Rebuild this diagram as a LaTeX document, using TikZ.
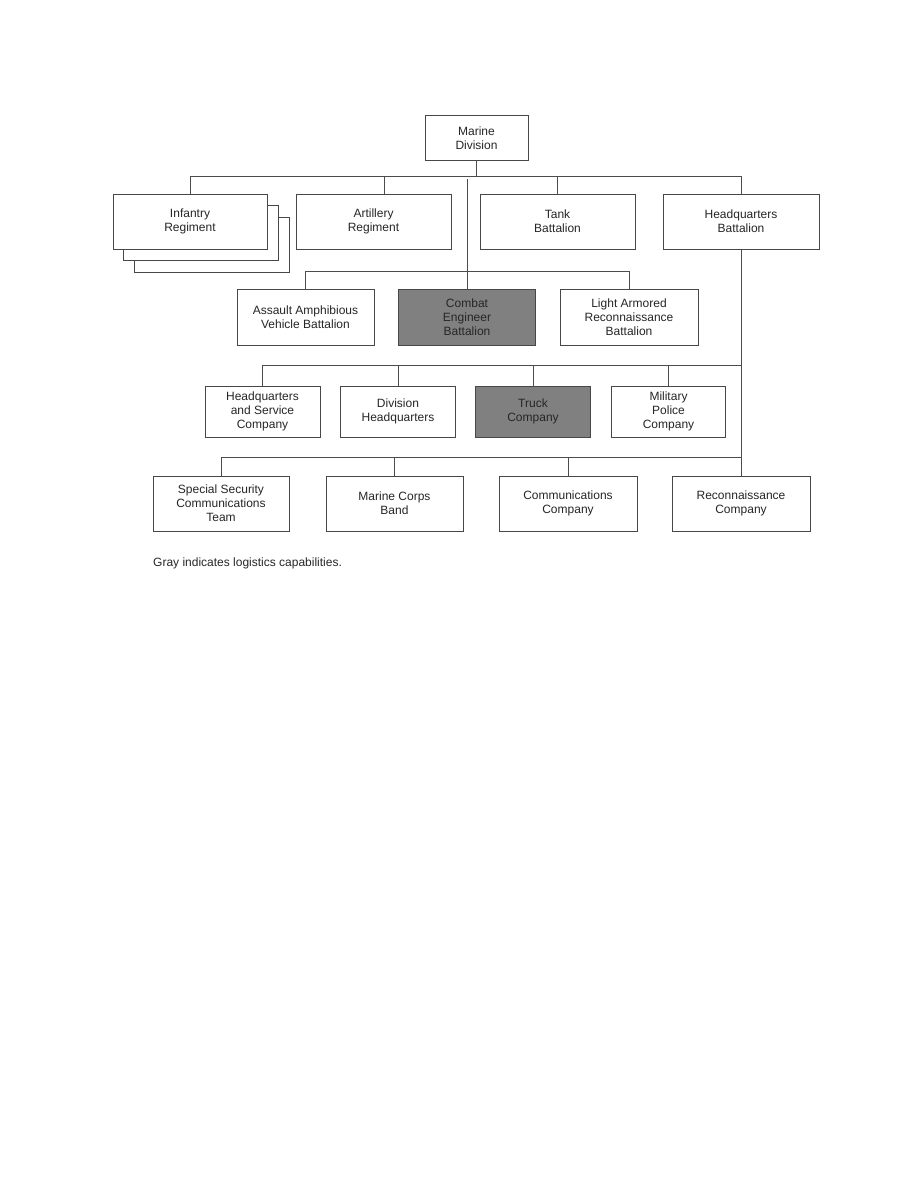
\documentclass[tikz,border=0pt]{standalone}
\usepackage{fontspec}
\setmainfont{Liberation Sans}
\begin{document}
\begin{tikzpicture}[x=1pt,y=-1pt,
  box/.style={draw=black!72, line width=1pt, fill=white, inner sep=0pt, align=center,
    font=\fontsize{12}{14}\selectfont, text=black!85},
  graybox/.style={box, fill=black!50},
  conn/.style={draw=black!70, line width=1pt}]
\useasboundingbox (0,0) rectangle (918,1188);
% top
\node[box, minimum width=103pt, minimum height=44pt] (md) at (476.5,138) {Marine\\Division};
% row 1
\node[box, minimum width=155pt, minimum height=55pt] (inf3) at (211.5,244.5) {};
\node[box, minimum width=155pt, minimum height=55pt] (inf2) at (200.5,233) {};
\node[box, minimum width=154pt, minimum height=55pt] (inf) at (190,221.5) {Infantry\\Regiment};
\node[box, minimum width=155pt, minimum height=55pt] (art) at (373.5,221.5) {Artillery\\Regiment};
\node[box, minimum width=155pt, minimum height=55pt] (tank) at (557.5,221.5) {Tank\\Battalion};
\node[box, minimum width=156pt, minimum height=55pt] (hqb) at (741,221.5) {Headquarters\\Battalion};
% row 2
\node[box, minimum width=137pt, minimum height=56pt] (aav) at (305.5,317) {Assault Amphibious\\Vehicle Battalion};
\node[graybox, minimum width=137pt, minimum height=56pt] (ce) at (467,317) {Combat\\Engineer\\Battalion};
\node[box, minimum width=138pt, minimum height=56pt] (lar) at (629,317) {Light Armored\\Reconnaissance\\Battalion};
% row 3
\node[box, minimum width=115pt, minimum height=51pt] (hqs) at (262.5,411.5) {Headquarters\\and Service\\Company};
\node[box, minimum width=115pt, minimum height=51pt] (dhq) at (398,411.5) {Division\\Headquarters};
\node[graybox, minimum width=115pt, minimum height=51pt] (truck) at (533,411.5) {Truck\\Company};
\node[box, minimum width=114pt, minimum height=51pt] (mp) at (668.5,411.5) {Military\\Police\\Company};
% row 4
\node[box, minimum width=136pt, minimum height=55pt] (ssct) at (221,503.5) {Special Security\\Communications\\Team};
\node[box, minimum width=137pt, minimum height=55pt] (mcb) at (394.5,503.5) {Marine Corps\\Band};
\node[box, minimum width=138pt, minimum height=55pt] (comm) at (568,503.5) {Communications\\Company};
\node[box, minimum width=138pt, minimum height=55pt] (rec) at (741,503.5) {Reconnaissance\\Company};
% caption
\node[anchor=base west, inner sep=0pt, font=\fontsize{12}{14}\selectfont, text=black!85] (cap) at (153,566) {Gray indicates logistics capabilities.};
% bars
\coordinate (b1) at (0,176);
\coordinate (b2) at (0,271);
\coordinate (b3) at (0,365);
\coordinate (b4) at (0,457);
\coordinate (cdiv) at (467,179);
% row 1 connectors
\draw[conn] (md.south) -- (md.south |- b1);
\draw[conn] (inf.north) |- (hqb.north |- b1) -- (hqb.north);
\draw[conn] ([xshift=10.5pt]art.north) -- ([xshift=10.5pt]art.north |- b1);
\draw[conn] (tank.north) -- (tank.north |- b1);
% row 2 connectors
\draw[conn] (cdiv) -- (ce.north);
\draw[conn] (aav.north) |- (lar.north |- b2) -- (lar.north);
% HQ battalion trunk
\draw[conn] (hqb.south) -- (rec.north);
% row 3
\draw[conn] (hqs.north) |- (hqb.south |- b3);
\draw[conn] (dhq.north) -- (dhq.north |- b3);
\draw[conn] (truck.north) -- (truck.north |- b3);
\draw[conn] (mp.north) -- (mp.north |- b3);
% row 4
\draw[conn] (ssct.north) |- (rec.north |- b4);
\draw[conn] (mcb.north) -- (mcb.north |- b4);
\draw[conn] (comm.north) -- (comm.north |- b4);
\end{tikzpicture}
\end{document}
